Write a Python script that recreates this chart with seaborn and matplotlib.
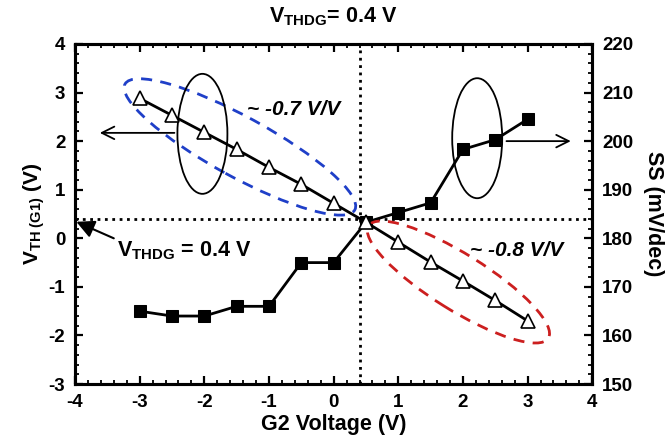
import matplotlib
matplotlib.use("Agg")
import matplotlib.pyplot as plt
import matplotlib.transforms as mtransforms
from matplotlib.patches import Ellipse
from matplotlib.ticker import MultipleLocator
import seaborn as sns

# ── data ─────────────────────────────────────────────────────────────────────
g2_voltage = [-3, -2.5, -2, -1.5, -1, -0.5, 0, 0.5, 1, 1.5, 2, 2.5, 3]
vth_g1 = [2.88, 2.53, 2.18, 1.83, 1.46, 1.11, 0.72, 0.33,
          -0.08, -0.49, -0.88, -1.28, -1.70]
ss_mv_dec = [165.0, 164.0, 164.0, 166.0, 166.0, 175.0, 175.0, 183.3,
             185.3, 187.3, 198.3, 200.3, 204.5]
vthdg = 0.4
slope_left = "~ -0.7 V/V"
slope_right = "~ -0.8 V/V"

sns.set_style("ticks")
plt.rcParams["font.family"] = ["Liberation Sans", "DejaVu Sans"]
plt.rcParams["font.weight"] = "bold"
plt.rcParams["axes.unicode_minus"] = False
for key in ("text.color", "axes.labelcolor", "xtick.color", "ytick.color",
            "axes.edgecolor"):
    plt.rcParams[key] = "black"
plt.rcParams["mathtext.fontset"] = "custom"
plt.rcParams["mathtext.rm"] = "Liberation Sans:bold"
plt.rcParams["mathtext.it"] = "Liberation Sans:italic:bold"
plt.rcParams["mathtext.bf"] = "Liberation Sans:bold"

DPI = 100
fig = plt.figure(figsize=(6.7, 4.44), dpi=DPI)
ax = fig.add_axes([0.112, 0.135, 0.772, 0.766])
ax2 = ax.twinx()
ax.set_zorder(ax2.get_zorder() + 1)
ax.patch.set_visible(False)


def phys_ellipse(axis, xy, w_px, h_px, angle, **kw):
    """Ellipse centred at data xy, sized in pixels so rotation is not skewed."""
    trans = fig.dpi_scale_trans + mtransforms.ScaledTranslation(
        xy[0], xy[1], axis.transData)
    e = Ellipse((0, 0), w_px / DPI, h_px / DPI, angle=angle,
                transform=trans, fill=False, **kw)
    axis.add_patch(e)


# ── series ───────────────────────────────────────────────────────────────────
sns.lineplot(x=g2_voltage, y=ss_mv_dec, ax=ax2, color="black", linewidth=2,
             marker="s", markersize=8, markerfacecolor="black",
             markeredgecolor="black")
sns.lineplot(x=g2_voltage, y=vth_g1, ax=ax, color="black", linewidth=2,
             marker="^", markersize=9.5, markerfacecolor="white",
             markeredgecolor="black", markeredgewidth=1.2)

ax.axvline(vthdg, color="black", linestyle=":", linewidth=2, zorder=1)
ax.axhline(vthdg, color="black", linestyle=":", linewidth=2, zorder=1)

# ── axes ─────────────────────────────────────────────────────────────────────
ax.set_xlim(-4, 4)
ax.set_ylim(-3, 4)
ax2.set_ylim(150, 220)
ax.xaxis.set_major_locator(MultipleLocator(1))
ax.xaxis.set_minor_locator(MultipleLocator(0.2))
ax.yaxis.set_major_locator(MultipleLocator(1))
ax.yaxis.set_minor_locator(MultipleLocator(0.2))
ax2.yaxis.set_major_locator(MultipleLocator(10))
ax2.yaxis.set_minor_locator(MultipleLocator(2))

for a in (ax, ax2):
    a.tick_params(which="major", direction="in", length=6, width=1.6,
                  labelsize=13.5, pad=7)
    a.tick_params(which="minor", direction="in", length=3, width=1.3)
    for sp in a.spines.values():
        sp.set_linewidth(2.2)
ax.tick_params(which="both", top=True, right=False)

ax.set_xlabel("G2 Voltage (V)", fontsize=15.5, fontweight="bold", labelpad=2)
ax.set_ylabel(r"V$_{\mathrm{TH\ (G1)}}$ (V)", fontsize=15, fontweight="bold",
              labelpad=1)
ax2.set_ylabel("SS (mV/dec)", fontsize=15.5, fontweight="bold",
               rotation=270, labelpad=22)

# ── annotations ──────────────────────────────────────────────────────────────
phys_ellipse(ax, (-1.45, 1.88), 262, 60, -28.7, edgecolor="#1f3fc8",
             linestyle=(0, (4, 3)), linewidth=2)
phys_ellipse(ax, (1.93, -0.90), 212, 56, -32, edgecolor="#cc1f1f",
             linestyle=(0, (4, 3)), linewidth=2)
phys_ellipse(ax, (-2.03, 2.15), 50, 120, 0, edgecolor="black", linewidth=1.3)
phys_ellipse(ax2, (2.22, 200.6), 50, 120, 0, edgecolor="black", linewidth=1.3)

arrow_kw = dict(arrowstyle="->,head_length=0.9,head_width=0.45",
                color="black", lw=1.3)
ax.annotate("", xy=(-3.66, 2.17), xytext=(-2.42, 2.17), arrowprops=arrow_kw)
ax2.annotate("", xy=(3.71, 200), xytext=(2.63, 200), arrowprops=arrow_kw)

ax.text(-1.34, 2.54, slope_left, fontsize=15, fontweight="bold",
        fontstyle="italic")
ax.text(2.11, -0.36, slope_right, fontsize=15, fontweight="bold",
        fontstyle="italic")

ax.text(0, 4.45, r"V$_{\mathrm{THDG}}$= 0.4 V", fontsize=15.5,
        fontweight="bold", ha="center", va="baseline", clip_on=False)
ax.annotate(r"V$_{\mathrm{THDG}}$ = 0.4 V", xy=(-3.98, 0.34),
            xytext=(-3.35, -0.38), fontsize=15.5, fontweight="bold",
            va="baseline", ha="left",
            arrowprops=dict(arrowstyle="-|>,head_length=0.7,head_width=0.35",
                            color="black", lw=1.5,
                            shrinkA=0, shrinkB=0,
                            relpos=(0, 1)))

fig.savefig("out.png", dpi=DPI)
